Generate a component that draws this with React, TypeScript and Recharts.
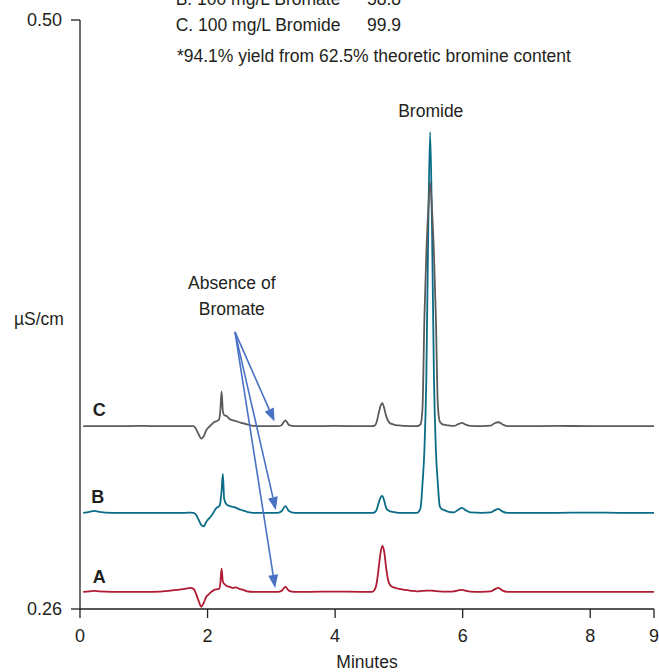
import { LineChart, Line, XAxis, YAxis, ReferenceLine, ReferenceDot } from 'recharts'

// retention time, minutes
const minutes = [
  0.05, 0.15, 0.22, 0.3, 0.5, 1.0, 1.26, 1.52, 1.65, 1.73,
  1.78, 1.82, 1.86, 1.9, 1.94, 1.98, 2.02, 2.06, 2.1, 2.14,
  2.18, 2.2, 2.22, 2.24, 2.26, 2.3, 2.35, 2.4, 2.45, 2.5,
  2.55, 2.62, 2.72, 2.9, 3.1, 3.16, 3.22, 3.28, 3.36, 3.6,
  4.0, 4.4, 4.58, 4.62, 4.65, 4.68, 4.71, 4.74, 4.77, 4.8,
  4.83, 4.86, 4.9, 4.95, 5.0, 5.1, 5.2, 5.28, 5.31, 5.34,
  5.37, 5.4, 5.43, 5.46, 5.49, 5.52, 5.55, 5.58, 5.61, 5.64,
  5.67, 5.7, 5.78, 5.86, 5.93, 5.99, 6.05, 6.12, 6.3, 6.44,
  6.5, 6.56, 6.62, 6.7, 7.0, 7.5, 8.0, 8.5, 9.0,
]

// conductivity, µS/cm (traces are offset as in the original figure)
const traceC = [
  0.3345, 0.3345, 0.3345, 0.3345, 0.3345, 0.3346, 0.3345, 0.3345, 0.3345, 0.3345,
  0.3345, 0.3333, 0.3312, 0.3294, 0.3304, 0.3329, 0.3341, 0.3351, 0.3361, 0.3365,
  0.3372, 0.3406, 0.3487, 0.3406, 0.339, 0.3386, 0.3373, 0.3369, 0.3365, 0.3361,
  0.3357, 0.3352, 0.3346, 0.3345, 0.3345, 0.3349, 0.3369, 0.3349, 0.3345, 0.3345,
  0.3346, 0.3345, 0.3345, 0.3347, 0.3361, 0.3394, 0.3426, 0.3439, 0.3418, 0.3386,
  0.3367, 0.3357, 0.3353, 0.3349, 0.3348, 0.3346, 0.3345, 0.3345, 0.3347, 0.3353,
  0.3418, 0.3785, 0.4045, 0.4224, 0.4338, 0.4224, 0.4045, 0.3785, 0.3435, 0.3365,
  0.3355, 0.3351, 0.3348, 0.3346, 0.3353, 0.3358, 0.3351, 0.3346, 0.3345, 0.3347,
  0.3357, 0.3361, 0.3353, 0.3345, 0.3345, 0.3346, 0.3345, 0.3345, 0.3345,
]

const traceB = [
  0.2992, 0.2996, 0.3, 0.2996, 0.2992, 0.2992, 0.2992, 0.2992, 0.2992, 0.2993,
  0.2992, 0.2984, 0.2964, 0.2943, 0.2937, 0.2955, 0.2968, 0.298, 0.2996, 0.3012,
  0.3018, 0.3033, 0.3082, 0.3151, 0.3049, 0.3025, 0.3019, 0.3016, 0.3012, 0.3006,
  0.3002, 0.2996, 0.2992, 0.2992, 0.2992, 0.2998, 0.3019, 0.2998, 0.2992, 0.2992,
  0.2992, 0.2992, 0.2992, 0.2994, 0.3004, 0.3029, 0.3053, 0.3061, 0.3041, 0.3012,
  0.3002, 0.2998, 0.2996, 0.2994, 0.2992, 0.2992, 0.2992, 0.2992, 0.2996, 0.3012,
  0.311, 0.3248, 0.3537, 0.414, 0.4543, 0.414, 0.3537, 0.3248, 0.3114, 0.302,
  0.3008, 0.3004, 0.2996, 0.2994, 0.3004, 0.3012, 0.3002, 0.2994, 0.2992, 0.2994,
  0.3002, 0.3008, 0.2998, 0.2992, 0.2992, 0.2992, 0.2993, 0.2992, 0.2992,
]

const traceA = [
  0.267, 0.2672, 0.2674, 0.2672, 0.267, 0.267, 0.2671, 0.2678, 0.2682, 0.2686,
  0.2682, 0.2662, 0.2633, 0.2609, 0.2625, 0.265, 0.266, 0.267, 0.2677, 0.268,
  0.2682, 0.2703, 0.2764, 0.2711, 0.2703, 0.2694, 0.269, 0.2686, 0.2688, 0.2682,
  0.2679, 0.2672, 0.267, 0.267, 0.267, 0.2674, 0.269, 0.2674, 0.267, 0.267,
  0.2671, 0.267, 0.267, 0.2678, 0.2703, 0.276, 0.2825, 0.2857, 0.2833, 0.2768,
  0.2719, 0.2698, 0.269, 0.2686, 0.2682, 0.2678, 0.2674, 0.2672, 0.2672, 0.2673,
  0.2674, 0.2674, 0.2675, 0.2675, 0.2675, 0.2675, 0.2674, 0.2673, 0.2672, 0.2672,
  0.2671, 0.2671, 0.2671, 0.2672, 0.2676, 0.2678, 0.2674, 0.2671, 0.267, 0.2672,
  0.268, 0.2686, 0.2676, 0.267, 0.267, 0.267, 0.267, 0.267, 0.267,
]

const xTicks = [0, 2, 4, 6, 8, 9]
const yTicks = [0.26, 0.5]

// annotation anchors in chart units (minutes, µS/cm)
const arrowFrom = { x: 2.43, y: 0.3729 }
const arrowTips = [
  { x: 3.05, y: 0.3364 },
  { x: 3.07, y: 0.3003 },
  { x: 3.06, y: 0.2686 },
]

const traceLabels = [
  { text: 'C', x: 0.3, y: 0.3411 },
  { text: 'B', x: 0.28, y: 0.3056 },
  { text: 'A', x: 0.3, y: 0.273 },
]

const headerRows = [
  { name: 'B. 100 mg/L Bromate', value: '58.8', y: 0.5086 },
  { name: 'C. 100 mg/L Bromide', value: '99.9', y: 0.498 },
]
const footnote = '*94.1% yield from 62.5% theoretic bromine content'

const FONT = "'Liberation Sans', Arial, sans-serif"
const INK = '#231f20'
const BLUE = '#4a72c4'

const data = minutes.map((t, i) => ({ t, a: traceA[i], b: traceB[i], c: traceC[i] }))

function Arrow(props: any) {
  const { x1, y1, x2, y2 } = props
  const ang = Math.atan2(y2 - y1, x2 - x1)
  const len = 13
  const half = 5
  const bx = x2 - len * Math.cos(ang)
  const by = y2 - len * Math.sin(ang)
  const px = -Math.sin(ang) * half
  const py = Math.cos(ang) * half
  return (
    <g>
      <line x1={x1} y1={y1} x2={bx} y2={by} stroke={BLUE} strokeWidth={1.6} />
      <polygon points={`${x2},${y2} ${bx + px},${by + py} ${bx - px},${by - py}`} fill={BLUE} />
    </g>
  )
}

function note(text: string, anchor = 'middle', size = 17.5, weight = 'normal') {
  return (p: any) => (
    <text
      x={p.cx}
      y={p.cy}
      textAnchor={anchor}
      dominantBaseline="central"
      fontFamily={FONT}
      fontSize={size}
      fontWeight={weight}
      fill={INK}
    >
      {text}
    </text>
  )
}

export default function App() {
  return (
    <div style={{ position: 'absolute', left: 0, top: 0, background: '#fff' }}>
      <LineChart width={659} height={672} data={data} margin={{ top: 20, right: 5, left: 0, bottom: 0 }}>
        <XAxis
          type="number"
          dataKey="t"
          domain={[0, 9]}
          ticks={xTicks}
          interval={0}
          height={63}
          tickSize={9}
          tickMargin={11}
          axisLine={{ stroke: INK, strokeWidth: 1.3 }}
          tickLine={{ stroke: INK, strokeWidth: 1.3 }}
          tick={{ fill: INK, fontSize: 18, fontFamily: FONT }}
          label={{ value: 'Minutes', position: 'insideBottom', offset: 4, fill: INK, fontSize: 17.5, fontFamily: FONT }}
        />
        <YAxis
          type="number"
          domain={[0.26, 0.5]}
          ticks={yTicks}
          interval={0}
          width={80}
          tickSize={9}
          tickMargin={9}
          tickFormatter={(v: number) => v.toFixed(2)}
          axisLine={{ stroke: INK, strokeWidth: 1.3 }}
          tickLine={{ stroke: INK, strokeWidth: 1.3 }}
          tick={{ fill: INK, fontSize: 18, fontFamily: FONT }}
          label={{ value: 'µS/cm', position: 'insideLeft', offset: 14, dy: 4, fill: INK, fontSize: 17.5, fontFamily: FONT }}
        />
        <Line type="monotone" dataKey="a" stroke="#b01a32" strokeWidth={1.8} dot={false} isAnimationActive={false} />
        <Line type="monotone" dataKey="b" stroke="#0b6c87" strokeWidth={1.8} dot={false} isAnimationActive={false} />
        <Line type="monotone" dataKey="c" stroke="#5b5b5d" strokeWidth={1.8} dot={false} isAnimationActive={false} />

        {arrowTips.map((tip, i) => (
          <ReferenceLine key={`arrow-${i}`} segment={[arrowFrom, tip]} shape={Arrow} ifOverflow="visible" />
        ))}

        {traceLabels.map((l) => (
          <ReferenceDot key={l.text} x={l.x} y={l.y} ifOverflow="visible" shape={note(l.text, 'middle', 18, 'bold')} />
        ))}

        <ReferenceDot x={5.5} y={0.4629} ifOverflow="visible" shape={note('Bromide')} />
        <ReferenceDot x={2.38} y={0.3928} ifOverflow="visible" shape={note('Absence of')} />
        <ReferenceDot x={2.38} y={0.3822} ifOverflow="visible" shape={note('Bromate')} />

        {headerRows.map((r) => (
          <ReferenceDot key={r.name} x={1.5} y={r.y} ifOverflow="visible" shape={note(r.name, 'start')} />
        ))}
        {headerRows.map((r) => (
          <ReferenceDot key={r.value} x={4.5} y={r.y} ifOverflow="visible" shape={note(r.value, 'start')} />
        ))}
        <ReferenceDot x={1.52} y={0.4853} ifOverflow="visible" shape={note(footnote, 'start')} />
      </LineChart>
    </div>
  )
}
